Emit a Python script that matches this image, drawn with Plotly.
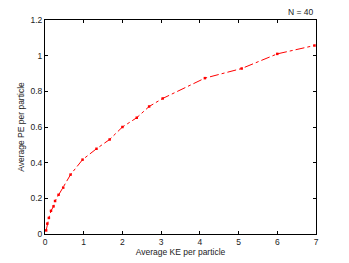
import plotly.graph_objects as go

ke = [0.03, 0.06, 0.10, 0.155, 0.22, 0.26, 0.35, 0.47, 0.66, 0.97, 1.33, 1.67,
      2.00, 2.37, 2.69, 3.04, 4.13, 5.08, 6.00, 6.96]
pe = [0.02, 0.058, 0.09, 0.13, 0.155, 0.185, 0.22, 0.26, 0.333, 0.417, 0.478, 0.53,
      0.60, 0.652, 0.715, 0.76, 0.874, 0.928, 1.01, 1.057]

x_ticks = [0, 1, 2, 3, 4, 5, 6, 7]
y_ticks = [0, 0.2, 0.4, 0.6, 0.8, 1, 1.2]

font = dict(family="Liberation Sans, Arial, sans-serif", size=8.5, color="#222")

fig = go.Figure()
fig.add_trace(go.Scatter(
    x=ke, y=pe, mode="lines+markers",
    line=dict(color="red", width=1, dash="dashdot"),
    marker=dict(color="red", size=2.5, symbol="square"),
    showlegend=False,
))

axis_common = dict(
    showline=True, linecolor="black", linewidth=1, mirror="ticks",
    ticks="inside", ticklen=3, tickcolor="black", showgrid=False,
    zeroline=False, tickfont=font, automargin=False,
)
# the page body adds an 8px offset, so the figure is shrunk by that amount
fig.update_layout(
    width=341, height=255,
    margin=dict(l=37, r=33, t=12, b=29),
    paper_bgcolor="white", plot_bgcolor="white",
    font=font,
    xaxis=dict(range=[0, 7], tickvals=x_ticks, title=dict(text="Average KE per particle", font=font, standoff=0), **axis_common),
    yaxis=dict(range=[0, 1.2], tickvals=y_ticks, title=dict(text="Average PE per particle", font=font, standoff=4), **axis_common),
    annotations=[dict(text="N = 40", x=1, y=1, xref="paper", yref="paper",
                      xanchor="right", yanchor="bottom", showarrow=False, font=font, yshift=1)],
)
fig.write_html("out.html")
